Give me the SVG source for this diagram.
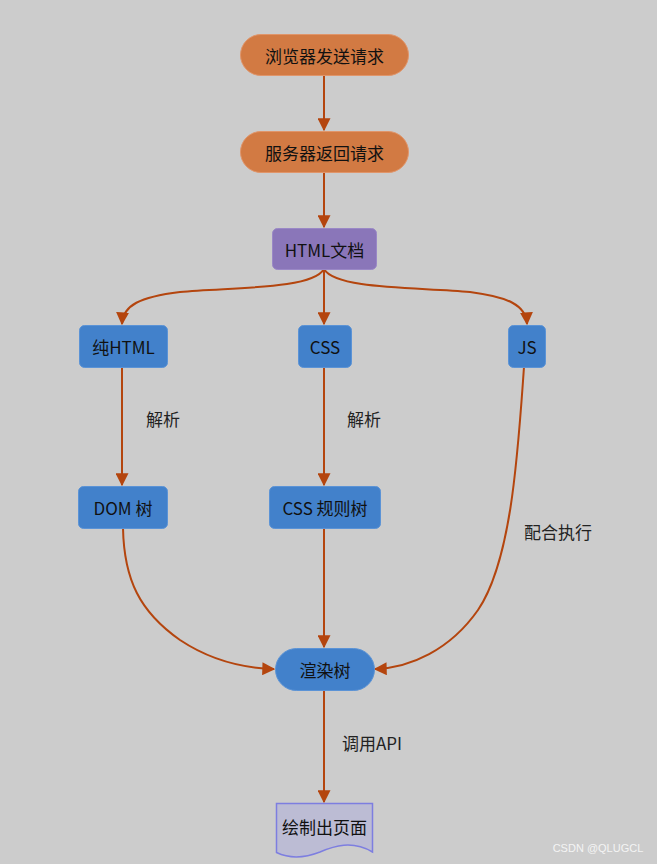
<svg xmlns="http://www.w3.org/2000/svg" width="657" height="864" viewBox="0 0 657 864">
<style>
text{font-family:"Noto Sans CJK SC","Microsoft YaHei","Noto Sans",sans-serif;font-size:17px;fill:#111;text-anchor:middle;dominant-baseline:central}
.orange{fill:#d27a43;stroke:#e0956a;stroke-width:1}
.blue{fill:#4281cb;stroke:#5b93d6;stroke-width:1}
.purple{fill:#8a76b9;stroke:#9a88c6;stroke-width:1}
.c{fill:none;stroke:#b4450e;stroke-width:2}
.lbl{font-size:17px;fill:#222}
</style>
<defs>
<marker id="ah" viewBox="0 0 10 10" refX="9" refY="5" markerWidth="6.500" markerHeight="6.500" markerUnits="strokeWidth" orient="auto">
<path d="M0,0 L10,5 L0,10 Z" fill="#b4450e"/>
</marker>
</defs>
<rect width="657" height="864" fill="#cccccc"/>
<g id="connectors">
<path class="c" marker-end="url(#ah)" d="M324,75 L324,130"/>
<path class="c" marker-end="url(#ah)" d="M324,173 L324,227"/>
<path class="c" marker-end="url(#ah)" d="M324,269 C312,290 230,287 180,292 C140,297 123,305 122,324"/>
<path class="c" marker-end="url(#ah)" d="M324,269 L324,324"/>
<path class="c" marker-end="url(#ah)" d="M324,269 C336,290 420,287 470,292 C508,297 526,305 527,324"/>
<path class="c" marker-end="url(#ah)" d="M122,367 L122,485"/>
<path class="c" marker-end="url(#ah)" d="M324,367 L324,485"/>
<path class="c" marker-end="url(#ah)" d="M123,528 C124,580 140,612 180,640 C210,660 240,668 274,669"/>
<path class="c" marker-end="url(#ah)" d="M324,528 L324,647"/>
<path class="c" marker-end="url(#ah)" d="M524,367 C518,450 512,560 478,610 C450,650 410,668 375,669"/>
<path class="c" marker-end="url(#ah)" d="M324,690 L324,802"/>
</g>
<g id="n1"><rect class="orange" x="240.500" y="34.500" width="168" height="41" rx="20.500"/><text x="324.500" y="55">浏览器发送请求</text></g>
<g id="n2"><rect class="orange" x="240.500" y="131.500" width="168" height="41" rx="20.500"/><text x="324.500" y="152">服务器返回请求</text></g>
<g id="n3"><rect class="purple" x="272.500" y="228.500" width="104" height="41" rx="5"/><text x="324.500" y="249">HTML文档</text></g>
<g id="n4"><rect class="blue" x="79.500" y="325.500" width="88" height="42" rx="5"/><text x="123.500" y="346.500">纯HTML</text></g>
<g id="n5"><rect class="blue" x="298.500" y="325.500" width="53" height="42" rx="5"/><text x="325" y="346.500">CSS</text></g>
<g id="n6"><rect class="blue" x="508.500" y="325.500" width="37" height="42" rx="5"/><text x="527" y="346.500">JS</text></g>
<g id="n7"><rect class="blue" x="78.500" y="486.500" width="89" height="42" rx="5"/><text x="123" y="507.500">DOM 树</text></g>
<g id="n8"><rect class="blue" x="269.500" y="486.500" width="111" height="42" rx="5"/><text x="325" y="507.500">CSS 规则树</text></g>
<g id="n9"><rect class="blue" x="275.500" y="648.500" width="99" height="42" rx="21"/><text x="325" y="669.500">渲染树</text></g>
<g id="n10"><path d="M276.500,803.500 L372.500,803.500 L372.500,852 C352,840 334,846 320,852 C302,859 288,858 276.500,852.500 Z" fill="#bcbcd4" stroke="#7d7ee0" stroke-width="1.500"/><text x="324.500" y="826">绘制出页面</text></g>
<g id="labels">
<text class="lbl" x="163" y="418">解析</text>
<text class="lbl" x="364" y="418">解析</text>
<text class="lbl" x="558" y="531">配合执行</text>
<text class="lbl" x="372" y="742">调用API</text>
<text x="598" y="848" style="font-size:11px;fill:#f4f4f4;font-family:'Liberation Sans',sans-serif">CSDN @QLUGCL</text>
</g>
</svg>
